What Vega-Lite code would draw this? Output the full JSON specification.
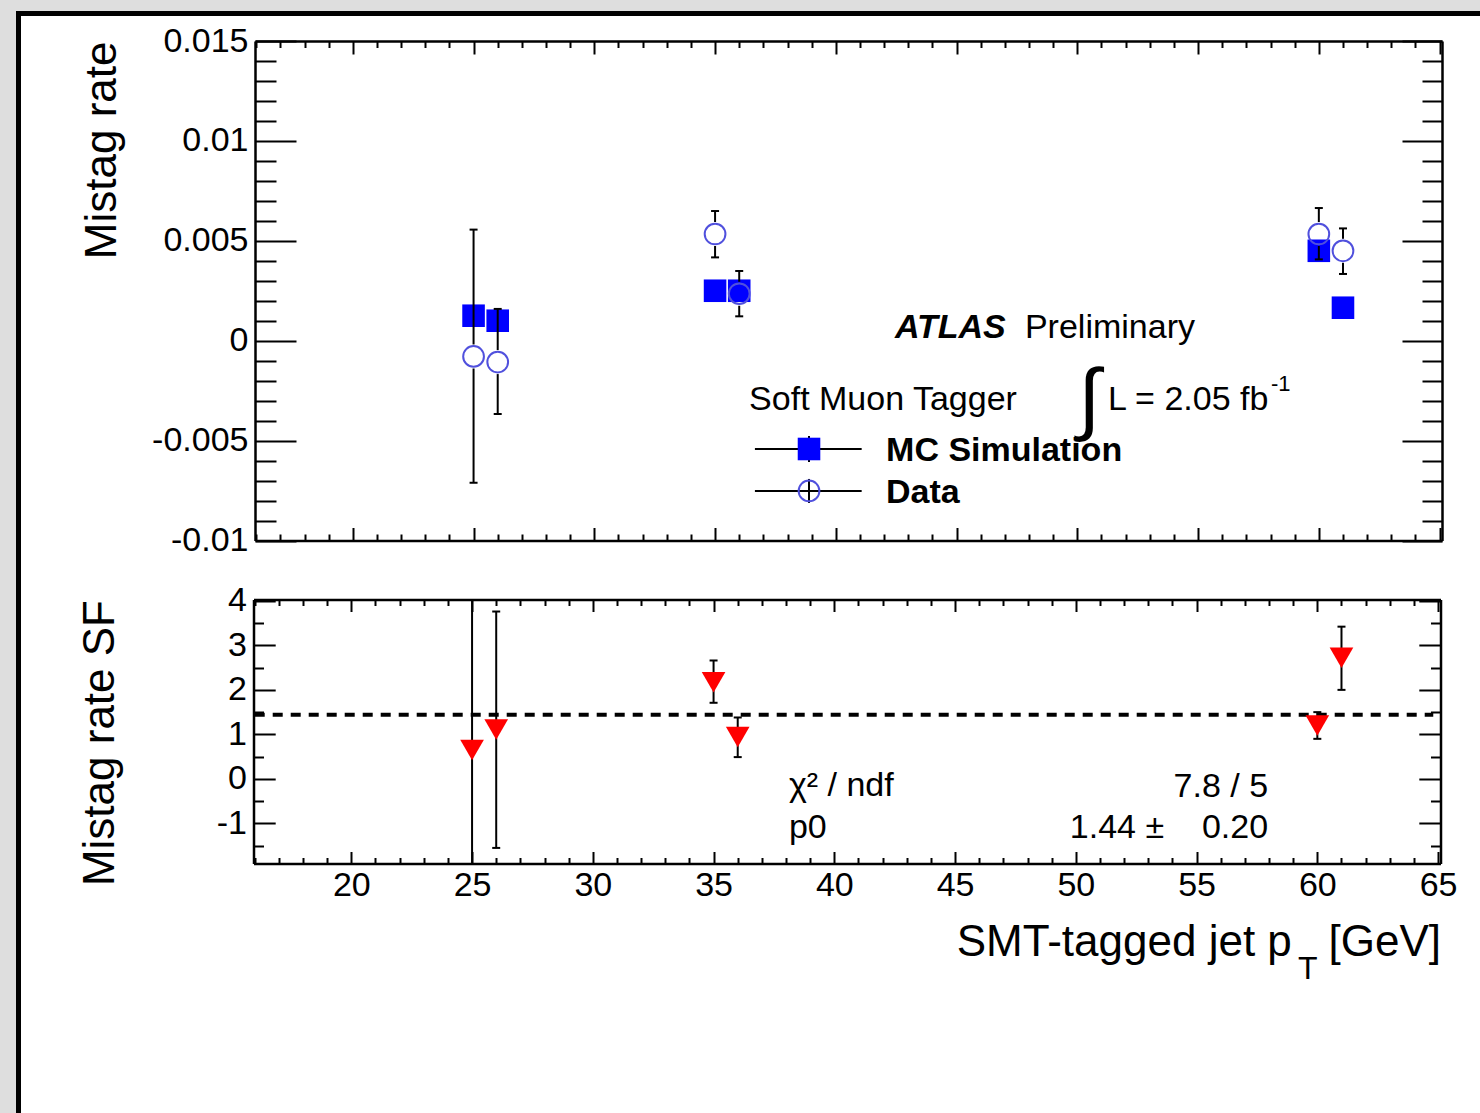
{
  "$schema": "https://vega.github.io/schema/vega-lite/v6.json",
  "width": 1462,
  "height": 1100,
  "autosize": {"type": "none"},
  "padding": {"left": 18, "top": 13, "right": 0, "bottom": 0},
  "background": "#dedede",
  "config": {
    "view": {"fill": "white", "stroke": null},
    "font": "Liberation Sans",
    "axis": {
      "grid": false, "labelFont": "Liberation Sans", "titleFont": "Liberation Sans",
      "labelColor": "black", "titleColor": "black", "tickColor": "black", "domainColor": "black",
      "labelFlush": false, "labelOverlap": false, "titleFontWeight": "normal",
      "tickWidth": 2, "domainWidth": 2.5, "zindex": 1
    },
    "text": {"font": "Liberation Sans", "color": "black", "baseline": "alphabetic", "align": "left", "fontSize": 34}
  },
  "datasets": {
    "rates": [
      {"pt": 25, "mc": 0.00125, "data": -0.00079, "lo": -0.00711, "hi": 0.00556},
      {"pt": 26, "mc": 0.00100, "data": -0.00107, "lo": -0.00367, "hi": 0.00159},
      {"pt": 35, "mc": 0.00250, "data": 0.00534, "lo": 0.00417, "hi": 0.00649},
      {"pt": 36, "mc": 0.00250, "data": 0.00235, "lo": 0.00122, "hi": 0.00349},
      {"pt": 60, "mc": 0.00450, "data": 0.00534, "lo": 0.00407, "hi": 0.00664},
      {"pt": 61, "mc": 0.00165, "data": 0.00450, "lo": 0.00334, "hi": 0.00562}
    ],
    "sf": [
      {"pt": 25, "sf": 0.65, "lo": -4.0, "hi": 5.3},
      {"pt": 26, "sf": 1.11, "lo": -1.55, "hi": 3.76},
      {"pt": 35, "sf": 2.17, "lo": 1.71, "hi": 2.66},
      {"pt": 36, "sf": 0.94, "lo": 0.49, "hi": 1.38},
      {"pt": 60, "sf": 1.20, "lo": 0.90, "hi": 1.50},
      {"pt": 61, "sf": 2.72, "lo": 2.00, "hi": 3.42}
    ]
  },
  "resolve": {"scale": {"x": "independent", "y": "independent"}, "axis": {"x": "independent", "y": "independent"}},
  "layer": [
    {
      "data": {"values": [{}]},
      "mark": {"type": "point", "opacity": 0},
      "encoding": {
        "x": {"datum": 0, "type": "quantitative", "scale": {"domain": [0, 1], "range": [0, 1462]},
              "axis": {"orient": "top", "offset": 0, "domain": true, "domainWidth": 5, "domainCap": "square", "ticks": false, "labels": false, "title": null, "zindex": 2}},
        "y": {"datum": 0, "type": "quantitative", "scale": {"domain": [0, 1], "range": [0, 1100]},
              "axis": {"orient": "left", "offset": 0, "domain": true, "domainWidth": 5, "domainCap": "square", "ticks": false, "labels": false, "title": null, "zindex": 2}}
      }
    },
    {
      "data": {"name": "rates"},
      "resolve": {"axis": {"x": "independent", "y": "independent"}},
      "layer": [
        {
          "mark": {"type": "point", "shape": "square", "size": 510, "filled": true, "color": "#0000ff", "opacity": 1},
          "encoding": {
            "x": {"field": "pt", "type": "quantitative", "scale": {"domain": [15.95, 65.1], "range": [237, 1424], "nice": false, "zero": false}, "axis": null},
            "y": {"field": "mc", "type": "quantitative", "scale": {"domain": [-0.01, 0.015], "range": [527.5, 28], "nice": false, "zero": false}, "axis": null}
          }
        },
        {
          "mark": {"type": "rule", "color": "black", "strokeWidth": 2, "yOffset": -12},
          "encoding": {
            "x": {"field": "pt", "type": "quantitative", "scale": {"domain": [15.95, 65.1], "range": [237, 1424], "nice": false, "zero": false},
                  "axis": {"orient": "bottom", "offset": -572.5, "values": [20, 25, 30, 35, 40, 45, 50, 55, 60, 65], "tickSize": -13, "labels": false, "domain": true, "title": null}},
            "y": {"field": "data", "type": "quantitative", "scale": {"domain": [-0.01, 0.015], "range": [527.5, 28], "nice": false, "zero": false},
                  "axis": {"orient": "left", "offset": -237, "values": [-0.01, -0.005, 0, 0.005, 0.01, 0.015], "tickSize": -41, "labelExpr": "'' + datum.value", "labelFontSize": 34, "labelPadding": 48, "labelBaseline": "middle", "domain": true, "title": "Mistag rate", "titleFontSize": 44, "titleAnchor": "end", "titlePadding": 27}},
            "y2": {"field": "hi"}
          }
        },
        {
          "mark": {"type": "rule", "color": "black", "strokeWidth": 2, "yOffset": 12},
          "encoding": {
            "x": {"field": "pt", "type": "quantitative", "scale": {"domain": [15.95, 65.1], "range": [237, 1424], "nice": false, "zero": false},
                  "axis": {"orient": "top", "offset": -28, "values": [20, 25, 30, 35, 40, 45, 50, 55, 60, 65], "tickSize": -13, "labels": false, "domain": true, "title": null}},
            "y": {"field": "data", "type": "quantitative", "scale": {"domain": [-0.01, 0.015], "range": [527.5, 28], "nice": false, "zero": false},
                  "axis": {"orient": "right", "offset": -38, "values": [-0.01, -0.005, 0, 0.005, 0.01, 0.015], "tickSize": -40, "labels": false, "domain": true, "title": null}},
            "y2": {"field": "lo"}
          }
        },
        {
          "mark": {"type": "tick", "orient": "horizontal", "color": "black", "size": 8, "thickness": 2, "opacity": 1},
          "encoding": {
            "x": {"field": "pt", "type": "quantitative", "scale": {"domain": [15.95, 65.1], "range": [237, 1424], "nice": false, "zero": false},
                  "axis": {"orient": "bottom", "offset": -572.5, "values": [16, 17, 18, 19, 21, 22, 23, 24, 26, 27, 28, 29, 31, 32, 33, 34, 36, 37, 38, 39, 41, 42, 43, 44, 46, 47, 48, 49, 51, 52, 53, 54, 56, 57, 58, 59, 61, 62, 63, 64], "tickSize": -6.5, "labels": false, "domain": false, "title": null}},
            "y": {"field": "hi", "type": "quantitative", "scale": {"domain": [-0.01, 0.015], "range": [527.5, 28], "nice": false, "zero": false},
                  "axis": {"orient": "left", "offset": -237, "values": [-0.009, -0.008, -0.007, -0.006, -0.004, -0.003, -0.002, -0.001, 0.001, 0.002, 0.003, 0.004, 0.006, 0.007, 0.008, 0.009, 0.011, 0.012, 0.013, 0.014], "tickSize": -21, "labels": false, "domain": false, "title": null}}
          }
        },
        {
          "mark": {"type": "tick", "orient": "horizontal", "color": "black", "size": 8, "thickness": 2, "opacity": 1},
          "encoding": {
            "x": {"field": "pt", "type": "quantitative", "scale": {"domain": [15.95, 65.1], "range": [237, 1424], "nice": false, "zero": false},
                  "axis": {"orient": "top", "offset": -28, "values": [16, 17, 18, 19, 21, 22, 23, 24, 26, 27, 28, 29, 31, 32, 33, 34, 36, 37, 38, 39, 41, 42, 43, 44, 46, 47, 48, 49, 51, 52, 53, 54, 56, 57, 58, 59, 61, 62, 63, 64], "tickSize": -6.5, "labels": false, "domain": false, "title": null}},
            "y": {"field": "lo", "type": "quantitative", "scale": {"domain": [-0.01, 0.015], "range": [527.5, 28], "nice": false, "zero": false},
                  "axis": {"orient": "right", "offset": -38, "values": [-0.009, -0.008, -0.007, -0.006, -0.004, -0.003, -0.002, -0.001, 0.001, 0.002, 0.003, 0.004, 0.006, 0.007, 0.008, 0.009, 0.011, 0.012, 0.013, 0.014], "tickSize": -20, "labels": false, "domain": false, "title": null}}
          }
        },
        {
          "mark": {"type": "point", "shape": "circle", "size": 430, "filled": false, "stroke": "#5050dd", "strokeWidth": 2, "opacity": 1},
          "encoding": {
            "x": {"field": "pt", "type": "quantitative", "scale": {"domain": [15.95, 65.1], "range": [237, 1424], "nice": false, "zero": false}, "axis": null},
            "y": {"field": "data", "type": "quantitative", "scale": {"domain": [-0.01, 0.015], "range": [527.5, 28], "nice": false, "zero": false}, "axis": null}
          }
        },
        {
          "data": {"values": [{}]},
          "mark": {"type": "rule", "color": "black", "strokeWidth": 2},
          "encoding": {
            "x": {"datum": 36.65, "type": "quantitative", "scale": {"domain": [15.95, 65.1], "range": [237, 1424], "nice": false, "zero": false}, "axis": null},
            "x2": {"datum": 41.07},
            "y": {"datum": -0.00542, "type": "quantitative", "scale": {"domain": [-0.01, 0.015], "range": [527.5, 28], "nice": false, "zero": false}, "axis": null}
          }
        },
        {
          "data": {"values": [{}]},
          "mark": {"type": "rule", "color": "black", "strokeWidth": 2, "yOffset": -13, "y2Offset": 13},
          "encoding": {
            "x": {"datum": 38.89, "type": "quantitative", "scale": {"domain": [15.95, 65.1], "range": [237, 1424], "nice": false, "zero": false}, "axis": null},
            "y": {"datum": -0.00542, "type": "quantitative", "scale": {"domain": [-0.01, 0.015], "range": [527.5, 28], "nice": false, "zero": false}, "axis": null},
            "y2": {"datum": -0.00542}
          }
        },
        {
          "data": {"values": [{}]},
          "mark": {"type": "point", "shape": "square", "size": 510, "filled": true, "color": "#0000ff", "opacity": 1},
          "encoding": {
            "x": {"datum": 38.89, "type": "quantitative", "scale": {"domain": [15.95, 65.1], "range": [237, 1424], "nice": false, "zero": false}, "axis": null},
            "y": {"datum": -0.00542, "type": "quantitative", "scale": {"domain": [-0.01, 0.015], "range": [527.5, 28], "nice": false, "zero": false}, "axis": null}
          }
        },
        {
          "data": {"values": [{}]},
          "mark": {"type": "rule", "color": "black", "strokeWidth": 2},
          "encoding": {
            "x": {"datum": 36.65, "type": "quantitative", "scale": {"domain": [15.95, 65.1], "range": [237, 1424], "nice": false, "zero": false}, "axis": null},
            "x2": {"datum": 41.07},
            "y": {"datum": -0.00752, "type": "quantitative", "scale": {"domain": [-0.01, 0.015], "range": [527.5, 28], "nice": false, "zero": false}, "axis": null}
          }
        },
        {
          "data": {"values": [{}]},
          "mark": {"type": "rule", "color": "black", "strokeWidth": 2, "yOffset": -12, "y2Offset": 12},
          "encoding": {
            "x": {"datum": 38.89, "type": "quantitative", "scale": {"domain": [15.95, 65.1], "range": [237, 1424], "nice": false, "zero": false}, "axis": null},
            "y": {"datum": -0.00752, "type": "quantitative", "scale": {"domain": [-0.01, 0.015], "range": [527.5, 28], "nice": false, "zero": false}, "axis": null},
            "y2": {"datum": -0.00752}
          }
        },
        {
          "data": {"values": [{}]},
          "mark": {"type": "point", "shape": "circle", "size": 430, "filled": false, "stroke": "#5050dd", "strokeWidth": 2, "opacity": 1},
          "encoding": {
            "x": {"datum": 38.89, "type": "quantitative", "scale": {"domain": [15.95, 65.1], "range": [237, 1424], "nice": false, "zero": false}, "axis": null},
            "y": {"datum": -0.00752, "type": "quantitative", "scale": {"domain": [-0.01, 0.015], "range": [527.5, 28], "nice": false, "zero": false}, "axis": null}
          }
        },
        {
          "data": {"values": [{}]},
          "mark": {"type": "text", "text": "ATLAS", "fontWeight": "bold", "fontStyle": "italic"},
          "encoding": {
            "x": {"datum": 42.45, "type": "quantitative", "scale": {"domain": [15.95, 65.1], "range": [237, 1424], "nice": false, "zero": false}, "axis": null},
            "y": {"datum": 0.000135, "type": "quantitative", "scale": {"domain": [-0.01, 0.015], "range": [527.5, 28], "nice": false, "zero": false}, "axis": null}
          }
        },
        {
          "data": {"values": [{}]},
          "mark": {"type": "text", "text": "Preliminary"},
          "encoding": {
            "x": {"datum": 47.83, "type": "quantitative", "scale": {"domain": [15.95, 65.1], "range": [237, 1424], "nice": false, "zero": false}, "axis": null},
            "y": {"datum": 0.000135, "type": "quantitative", "scale": {"domain": [-0.01, 0.015], "range": [527.5, 28], "nice": false, "zero": false}, "axis": null}
          }
        },
        {
          "data": {"values": [{}]},
          "mark": {"type": "text", "text": "Soft Muon Tagger"},
          "encoding": {
            "x": {"datum": 36.41, "type": "quantitative", "scale": {"domain": [15.95, 65.1], "range": [237, 1424], "nice": false, "zero": false}, "axis": null},
            "y": {"datum": -0.00347, "type": "quantitative", "scale": {"domain": [-0.01, 0.015], "range": [527.5, 28], "nice": false, "zero": false}, "axis": null}
          }
        },
        {
          "data": {"values": [{}]},
          "mark": {"type": "text", "text": "\u222b", "fontSize": 80, "align": "center"},
          "encoding": {
            "x": {"datum": 50.5, "type": "quantitative", "scale": {"domain": [15.95, 65.1], "range": [237, 1424], "nice": false, "zero": false}, "axis": null},
            "y": {"datum": -0.00422, "type": "quantitative", "scale": {"domain": [-0.01, 0.015], "range": [527.5, 28], "nice": false, "zero": false}, "axis": null}
          }
        },
        {
          "data": {"values": [{}]},
          "mark": {"type": "text", "text": "L = 2.05 fb"},
          "encoding": {
            "x": {"datum": 51.27, "type": "quantitative", "scale": {"domain": [15.95, 65.1], "range": [237, 1424], "nice": false, "zero": false}, "axis": null},
            "y": {"datum": -0.00347, "type": "quantitative", "scale": {"domain": [-0.01, 0.015], "range": [527.5, 28], "nice": false, "zero": false}, "axis": null}
          }
        },
        {
          "data": {"values": [{}]},
          "mark": {"type": "text", "text": "-1", "fontSize": 22},
          "encoding": {
            "x": {"datum": 58.02, "type": "quantitative", "scale": {"domain": [15.95, 65.1], "range": [237, 1424], "nice": false, "zero": false}, "axis": null},
            "y": {"datum": -0.00252, "type": "quantitative", "scale": {"domain": [-0.01, 0.015], "range": [527.5, 28], "nice": false, "zero": false}, "axis": null}
          }
        },
        {
          "data": {"values": [{}]},
          "mark": {"type": "text", "text": "MC Simulation", "fontWeight": "bold"},
          "encoding": {
            "x": {"datum": 42.08, "type": "quantitative", "scale": {"domain": [15.95, 65.1], "range": [237, 1424], "nice": false, "zero": false}, "axis": null},
            "y": {"datum": -0.00602, "type": "quantitative", "scale": {"domain": [-0.01, 0.015], "range": [527.5, 28], "nice": false, "zero": false}, "axis": null}
          }
        },
        {
          "data": {"values": [{}]},
          "mark": {"type": "text", "text": "Data", "fontWeight": "bold"},
          "encoding": {
            "x": {"datum": 42.08, "type": "quantitative", "scale": {"domain": [15.95, 65.1], "range": [237, 1424], "nice": false, "zero": false}, "axis": null},
            "y": {"datum": -0.00812, "type": "quantitative", "scale": {"domain": [-0.01, 0.015], "range": [527.5, 28], "nice": false, "zero": false}, "axis": null}
          }
        }
      ]
    },
    {
      "data": {"name": "sf"},
      "resolve": {"axis": {"x": "independent", "y": "independent"}},
      "layer": [
        {
          "data": {"values": [{}]},
          "mark": {"type": "rule", "color": "black", "strokeWidth": 4, "strokeDash": [10, 8]},
          "encoding": {
            "x": {"datum": 16, "type": "quantitative", "scale": {"domain": [15.95, 65.1], "range": [235.5, 1422.5], "nice": false, "zero": false}, "axis": null},
            "x2": {"datum": 64.8},
            "y": {"datum": 1.44, "type": "quantitative", "scale": {"domain": [-1.9, 4.03], "range": [850.5, 586.5], "nice": false, "zero": false, "clamp": true}, "axis": null}
          }
        },
        {
          "mark": {"type": "rule", "color": "black", "strokeWidth": 2},
          "encoding": {
            "x": {"field": "pt", "type": "quantitative", "scale": {"domain": [15.95, 65.1], "range": [235.5, 1422.5], "nice": false, "zero": false},
                  "axis": {"orient": "bottom", "offset": -249.5, "values": [20, 25, 30, 35, 40, 45, 50, 55, 60, 65], "tickSize": -12, "labelFontSize": 34, "labelPadding": 17, "domain": true, "title": "SMT-tagged jet p\u00a0\u00a0\u00a0[GeV]", "titleFontSize": 44, "titleAnchor": "end", "titlePadding": 18}},
            "y": {"field": "lo", "type": "quantitative", "scale": {"domain": [-1.9, 4.03], "range": [850.5, 586.5], "nice": false, "zero": false, "clamp": true},
                  "axis": {"orient": "left", "offset": -235.5, "values": [-1, 0, 1, 2, 3, 4], "tickSize": -21.7, "labelExpr": "'' + datum.value", "labelFontSize": 34, "labelPadding": 28.7, "labelBaseline": "middle", "domain": true, "title": "Mistag rate SF", "titleFontSize": 44, "titleAnchor": "end", "titlePadding": 94}},
            "y2": {"field": "hi"}
          }
        },
        {
          "transform": [{"filter": "datum.pt != 25"}],
          "mark": {"type": "tick", "orient": "horizontal", "color": "black", "size": 8, "thickness": 2, "opacity": 1},
          "encoding": {
            "x": {"field": "pt", "type": "quantitative", "scale": {"domain": [15.95, 65.1], "range": [235.5, 1422.5], "nice": false, "zero": false},
                  "axis": {"orient": "top", "offset": -586.5, "values": [20, 25, 30, 35, 40, 45, 50, 55, 60, 65], "tickSize": -12, "labels": false, "domain": true, "title": null}},
            "y": {"field": "hi", "type": "quantitative", "scale": {"domain": [-1.9, 4.03], "range": [850.5, 586.5], "nice": false, "zero": false, "clamp": true},
                  "axis": {"orient": "right", "offset": -39.5, "values": [-1, 0, 1, 2, 3, 4], "tickSize": -21.7, "labels": false, "domain": true, "title": null}}
          }
        },
        {
          "transform": [{"filter": "datum.pt != 25"}],
          "mark": {"type": "tick", "orient": "horizontal", "color": "black", "size": 8, "thickness": 2, "opacity": 1},
          "encoding": {
            "x": {"field": "pt", "type": "quantitative", "scale": {"domain": [15.95, 65.1], "range": [235.5, 1422.5], "nice": false, "zero": false},
                  "axis": {"orient": "bottom", "offset": -249.5, "values": [16, 17, 18, 19, 21, 22, 23, 24, 26, 27, 28, 29, 31, 32, 33, 34, 36, 37, 38, 39, 41, 42, 43, 44, 46, 47, 48, 49, 51, 52, 53, 54, 56, 57, 58, 59, 61, 62, 63, 64], "tickSize": -6, "labels": false, "domain": false, "title": null}},
            "y": {"field": "lo", "type": "quantitative", "scale": {"domain": [-1.9, 4.03], "range": [850.5, 586.5], "nice": false, "zero": false, "clamp": true},
                  "axis": {"orient": "left", "offset": -235.5, "values": [-1.5, -0.5, 0.5, 1.5, 2.5, 3.5], "tickSize": -10, "labels": false, "domain": false, "title": null}}
          }
        },
        {
          "mark": {"type": "point", "shape": "triangle-down", "size": 560, "filled": true, "color": "#ff0000", "opacity": 1},
          "encoding": {
            "x": {"field": "pt", "type": "quantitative", "scale": {"domain": [15.95, 65.1], "range": [235.5, 1422.5], "nice": false, "zero": false},
                  "axis": {"orient": "top", "offset": -586.5, "values": [16, 17, 18, 19, 21, 22, 23, 24, 26, 27, 28, 29, 31, 32, 33, 34, 36, 37, 38, 39, 41, 42, 43, 44, 46, 47, 48, 49, 51, 52, 53, 54, 56, 57, 58, 59, 61, 62, 63, 64], "tickSize": -6, "labels": false, "domain": false, "title": null}},
            "y": {"field": "sf", "type": "quantitative", "scale": {"domain": [-1.9, 4.03], "range": [850.5, 586.5], "nice": false, "zero": false, "clamp": true},
                  "axis": {"orient": "right", "offset": -39.5, "values": [-1.5, -0.5, 0.5, 1.5, 2.5, 3.5], "tickSize": -10, "labels": false, "domain": false, "title": null}}
          }
        },
        {
          "data": {"values": [{}]},
          "mark": {"type": "text", "text": "\u03c7\u00b2 / ndf"},
          "encoding": {
            "x": {"datum": 38.12, "type": "quantitative", "scale": {"domain": [15.95, 65.1], "range": [235.5, 1422.5], "nice": false, "zero": false}, "axis": null},
            "y": {"datum": -0.384, "type": "quantitative", "scale": {"domain": [-1.9, 4.03], "range": [850.5, 586.5], "nice": false, "zero": false, "clamp": true}, "axis": null}
          }
        },
        {
          "data": {"values": [{}]},
          "mark": {"type": "text", "text": "p0"},
          "encoding": {
            "x": {"datum": 38.12, "type": "quantitative", "scale": {"domain": [15.95, 65.1], "range": [235.5, 1422.5], "nice": false, "zero": false}, "axis": null},
            "y": {"datum": -1.33, "type": "quantitative", "scale": {"domain": [-1.9, 4.03], "range": [850.5, 586.5], "nice": false, "zero": false, "clamp": true}, "axis": null}
          }
        },
        {
          "data": {"values": [{}]},
          "mark": {"type": "text", "text": "7.8 / 5", "align": "right"},
          "encoding": {
            "x": {"datum": 57.96, "type": "quantitative", "scale": {"domain": [15.95, 65.1], "range": [235.5, 1422.5], "nice": false, "zero": false}, "axis": null},
            "y": {"datum": -0.407, "type": "quantitative", "scale": {"domain": [-1.9, 4.03], "range": [850.5, 586.5], "nice": false, "zero": false, "clamp": true}, "axis": null}
          }
        },
        {
          "data": {"values": [{}]},
          "mark": {"type": "text", "text": "1.44 \u00b1\u00a0\u00a0\u00a0\u00a00.20", "align": "right"},
          "encoding": {
            "x": {"datum": 57.96, "type": "quantitative", "scale": {"domain": [15.95, 65.1], "range": [235.5, 1422.5], "nice": false, "zero": false}, "axis": null},
            "y": {"datum": -1.33, "type": "quantitative", "scale": {"domain": [-1.9, 4.03], "range": [850.5, 586.5], "nice": false, "zero": false, "clamp": true}, "axis": null}
          }
        },
        {
          "data": {"values": [{}]},
          "mark": {"type": "text", "text": "T", "fontSize": 32, "align": "center", "dy": 115},
          "encoding": {
            "x": {"datum": 59.6, "type": "quantitative", "scale": {"domain": [15.95, 65.1], "range": [235.5, 1422.5], "nice": false, "zero": false}, "axis": null},
            "y": {"datum": -1.9, "type": "quantitative", "scale": {"domain": [-1.9, 4.03], "range": [850.5, 586.5], "nice": false, "zero": false, "clamp": true}, "axis": null}
          }
        }
      ]
    }
  ]
}
